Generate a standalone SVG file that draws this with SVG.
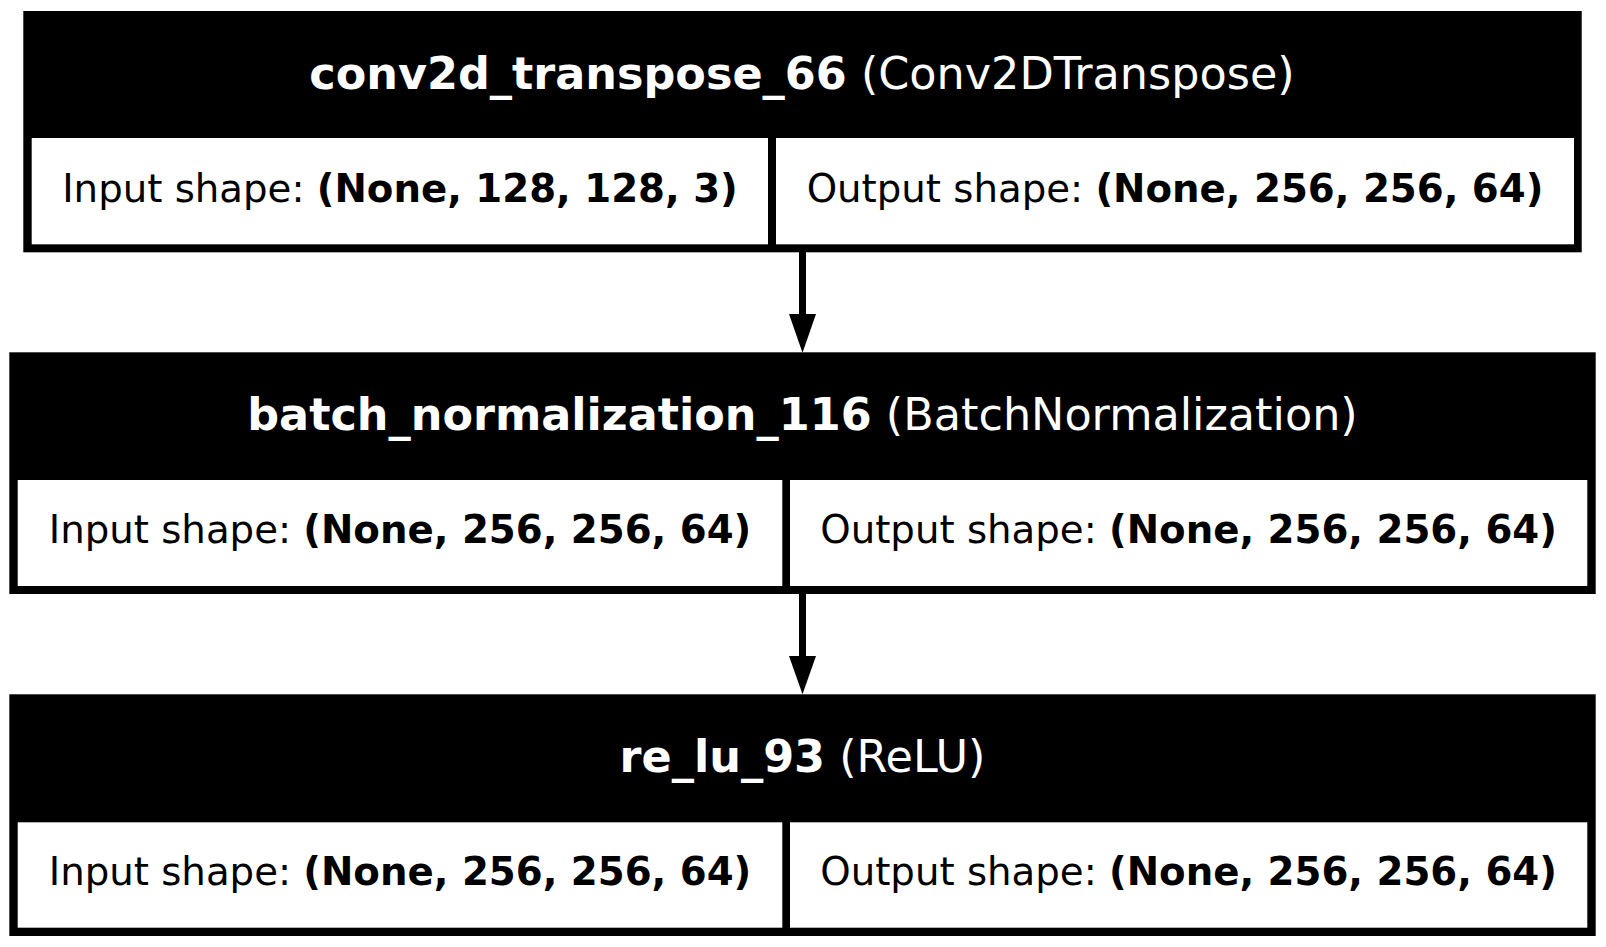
<svg xmlns="http://www.w3.org/2000/svg" width="1606" height="947" viewBox="0 0 1606 947">
<style>
.outer{fill:#000;}
.cell{fill:#fff;}
.hd{font-family:"DejaVu Sans",sans-serif;font-size:44.5px;fill:#fff;text-anchor:middle;}
.tx{font-family:"DejaVu Sans",sans-serif;font-size:38.7px;fill:#000;text-anchor:middle;}
.b{font-weight:bold;}
.edge{stroke:#000;stroke-width:7;fill:none;}
.head{fill:#000;}
</style>
<rect width="1606" height="947" fill="#fff"/>
<g id="node1">
<rect class="outer" x="23.3" y="11" width="1558.4" height="241.3"/>
<rect class="cell" x="31.7" y="138" width="736.3" height="106.3"/>
<rect class="cell" x="776" y="138" width="798" height="106.3"/>
<text class="hd" x="802" y="89.3"><tspan class="b">conv2d_transpose_66</tspan> (Conv2DTranspose)</text>
<text class="tx" x="400" y="201.7">Input shape: <tspan class="b">(None, 128, 128, 3)</tspan></text>
<text class="tx" x="1175" y="201.7">Output shape: <tspan class="b">(None, 256, 256, 64)</tspan></text>
</g>
<g id="node2">
<rect class="outer" x="9.3" y="352.3" width="1586.4" height="241.7"/>
<rect class="cell" x="17.7" y="480" width="764.6" height="106"/>
<rect class="cell" x="790" y="480" width="797.3" height="106"/>
<text class="hd" x="802.5" y="430"><tspan class="b">batch_normalization_116</tspan> (BatchNormalization)</text>
<text class="tx" x="400" y="543.3">Input shape: <tspan class="b">(None, 256, 256, 64)</tspan></text>
<text class="tx" x="1188.6" y="543.3">Output shape: <tspan class="b">(None, 256, 256, 64)</tspan></text>
</g>
<g id="node3">
<rect class="outer" x="9.3" y="694.3" width="1586.4" height="241.7"/>
<rect class="cell" x="17.7" y="822.3" width="764.6" height="105.4"/>
<rect class="cell" x="790" y="822.3" width="797.3" height="105.4"/>
<text class="hd" x="802.5" y="772.3"><tspan class="b">re_lu_93</tspan> (ReLU)</text>
<text class="tx" x="400" y="885">Input shape: <tspan class="b">(None, 256, 256, 64)</tspan></text>
<text class="tx" x="1188.6" y="885">Output shape: <tspan class="b">(None, 256, 256, 64)</tspan></text>
</g>
<g id="connectors">
<line class="edge" x1="802.5" y1="252" x2="802.5" y2="315"/>
<polygon class="head" points="789,314 816,314 802.5,352.7"/>
<line class="edge" x1="802.5" y1="594" x2="802.5" y2="657"/>
<polygon class="head" points="789,656 816,656 802.5,694.3"/>
</g>
</svg>
